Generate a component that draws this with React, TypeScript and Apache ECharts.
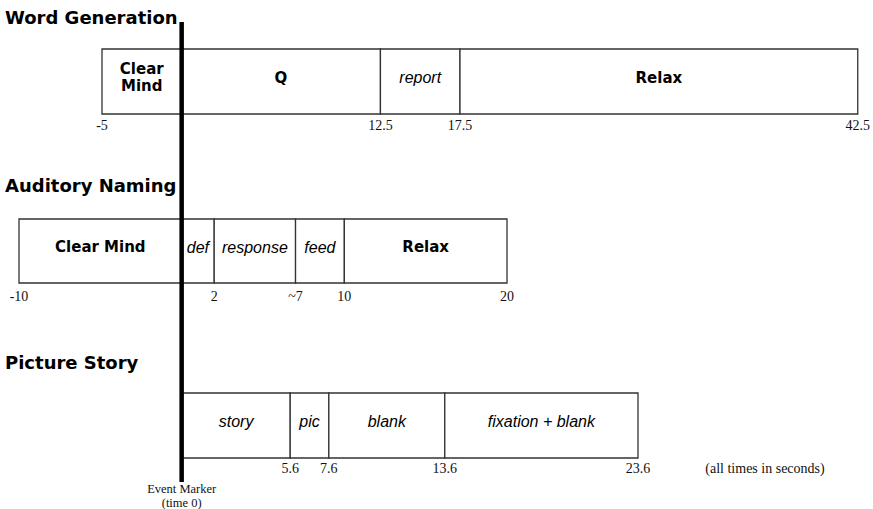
import React, { useEffect, useRef } from "react";
import * as echarts from "echarts";

// ---- data ----
const wordGenLabels = ["Clear\nMind", "Q", "report", "Relax"];
const wordGenBounds = [-5, 0, 12.5, 17.5, 42.5];
const wordGenItalic = [false, false, true, false];
const wordGenTicks = ["-5", "", "12.5", "17.5", "42.5"];

const audNamLabels = ["Clear Mind", "def", "response", "feed", "Relax"];
const audNamBounds = [-10, 0, 2, 7, 10, 20];
const audNamItalic = [false, true, true, true, false];
const audNamTicks = ["-10", "", "2", "~7", "10", "20"];

const picStoryLabels = ["story", "pic", "blank", "fixation + blank"];
const picStoryBounds = [0, 5.6, 7.6, 13.6, 23.6];
const picStoryItalic = [true, true, true, true];
const picStoryTicks = ["", "5.6", "7.6", "13.6", "23.6"];

const rowTitles = ["Word Generation", "Auditory Naming", "Picture Story"];
const eventMarkerLabel = "Event Marker\n(time 0)";
const unitsNote = "(all times in seconds)";

const FONT_SANS = "'Liberation Sans', Arial, Helvetica, sans-serif";
const FONT_BOLD = "'DejaVu Sans', 'Liberation Sans', sans-serif";
const FONT_SERIF = "'Liberation Serif', 'Times New Roman', serif";

const rows = [
  { labels: wordGenLabels, bounds: wordGenBounds, italic: wordGenItalic, ticks: wordGenTicks,
    grid: { left: 102, width: 758, top: 49, height: 65 }, labelMargin: 4, titleTop: 8 },
  { labels: audNamLabels, bounds: audNamBounds, italic: audNamItalic, ticks: audNamTicks,
    grid: { left: 19, width: 488, top: 219, height: 64 }, labelMargin: 6, titleTop: 176 },
  { labels: picStoryLabels, bounds: picStoryBounds, italic: picStoryItalic, ticks: picStoryTicks,
    grid: { left: 182, width: 456, top: 393, height: 65 }, labelMargin: 3, titleTop: 353 },
];

export default function App() {
  const ref = useRef<HTMLDivElement>(null);
  useEffect(() => {
    if (!ref.current) return;
    const chart = echarts.init(ref.current, null, { renderer: "svg" });

    const grids = rows.map((r) => ({ ...r.grid, containLabel: false }));
    const xAxes = rows.map((r, i) => {
      const tickVals = r.bounds.filter((_, k) => r.ticks[k] !== "");
      return {
        type: "value",
        gridIndex: i,
        min: r.bounds[0],
        max: r.bounds[r.bounds.length - 1],
        axisLine: { show: false },
        axisTick: { show: false },
        splitLine: { show: false },
        axisLabel: {
          customValues: tickVals,
          margin: r.labelMargin,
          fontFamily: FONT_SERIF,
          fontSize: 14,
          color: "#111",
          formatter: (v: number) => {
            const k = r.bounds.findIndex((b) => Math.abs(b - v) < 1e-9);
            return k >= 0 ? r.ticks[k] : "";
          },
        },
      };
    });
    const yAxes = rows.map((_, i) => ({
      type: "value", gridIndex: i, min: 0, max: 1, show: false,
    }));
    const series = rows.map((r, i) => ({
      type: "custom",
      xAxisIndex: i,
      yAxisIndex: i,
      clip: false,
      encode: { x: [0, 1] },
      data: r.labels.map((_, k) => [r.bounds[k], r.bounds[k + 1], k]),
      renderItem: (params: any, api: any) => {
        const s = api.value(0);
        const e = api.value(1);
        const idx = api.value(2);
        const p0 = api.coord([s, 1]);
        const p1 = api.coord([e, 0]);
        const italic = r.italic[idx];
        return {
          type: "group",
          children: [
            {
              type: "rect",
              shape: { x: p0[0], y: p0[1], width: p1[0] - p0[0], height: p1[1] - p0[1] },
              style: { fill: "#fff", stroke: "#333", lineWidth: 1.3 },
            },
            {
              type: "text",
              x: (p0[0] + p1[0]) / 2,
              y: (p0[1] + p1[1]) / 2 - 4,
              style: {
                text: r.labels[idx],
                align: "center",
                verticalAlign: "middle",
                fontFamily: italic ? FONT_SANS : FONT_BOLD,
                fontStyle: italic ? "italic" : "normal",
                fontWeight: italic ? "normal" : "bold",
                fontSize: italic ? 16 : 15,
                lineHeight: 17,
                fill: "#000",
              },
            },
          ],
        };
      },
    }));

    const titles = rows.map((r, i) => ({
      text: rowTitles[i],
      left: 5,
      top: r.titleTop,
      padding: 0,
      textStyle: { fontFamily: FONT_BOLD, fontWeight: "bold", fontSize: 18, color: "#000" },
    }));

    chart.setOption({
      animation: false,
      backgroundColor: "#fff",
      title: titles,
      grid: grids,
      xAxis: xAxes,
      yAxis: yAxes,
      series,
    });

    const mx = chart.convertToPixel({ xAxisIndex: 1 }, 0) as number;
    chart.setOption({
      graphic: [
        { type: "line", z: 100, shape: { x1: mx, y1: 22, x2: mx, y2: 482 }, style: { stroke: "#000", lineWidth: 4.5 } },
        { type: "text", z: 100, x: mx, y: 496, style: { text: eventMarkerLabel, align: "center", verticalAlign: "middle", fontFamily: FONT_SERIF, fontSize: 12.5, lineHeight: 14, fill: "#111" } },
        { type: "text", z: 100, x: 765, y: 468, style: { text: unitsNote, align: "center", verticalAlign: "middle", fontFamily: FONT_SERIF, fontSize: 14, fill: "#111" } },
      ],
    });

    return () => chart.dispose();
  }, []);
  return <div ref={ref} style={{ position: "fixed", left: 0, top: 0, width: 873, height: 509 }} />;
}
